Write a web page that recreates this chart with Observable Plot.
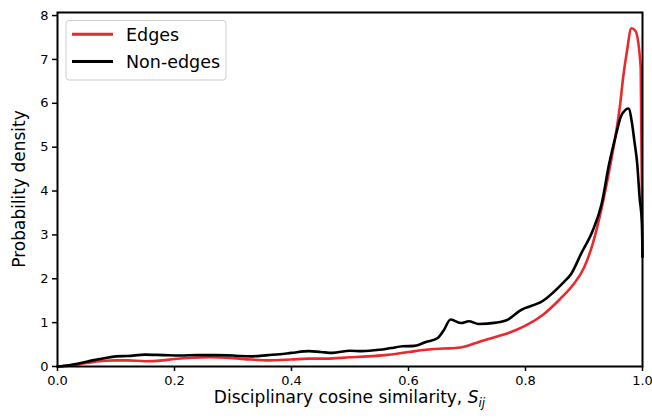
<!DOCTYPE html>
<html>
<head>
<meta charset="utf-8">
<script src="https://cdn.jsdelivr.net/npm/d3@7"></script>
<script src="https://cdn.jsdelivr.net/npm/@observablehq/plot@0.6"></script>
<style>
  html, body { margin: 0; padding: 0; background: white; }
  #chart { width: 652px; height: 418px; }
</style>
</head>
<body>
<div id="chart"></div>
<script>
// Edges (red) density curve
const edgesX = [0.00,0.02,0.04,0.06,0.08,0.10,0.12,0.15,0.18,0.20,0.23,0.26,0.30,0.33,0.36,0.40,0.43,0.46,0.50,0.53,0.56,0.60,0.63,0.66,0.68,0.70,0.72,0.75,0.77,0.80,0.83,0.86,0.88,0.90,0.915,0.93,0.945,0.955,0.962,0.967,0.973,0.981,0.988,0.997,1.0];
const edgesY = [0.00,0.02,0.06,0.10,0.13,0.14,0.14,0.12,0.14,0.17,0.20,0.21,0.19,0.16,0.14,0.16,0.18,0.18,0.21,0.23,0.26,0.33,0.38,0.41,0.42,0.47,0.56,0.68,0.76,0.93,1.18,1.55,1.84,2.25,2.80,3.60,4.60,5.35,6.00,6.60,7.15,7.71,7.65,6.80,2.50];
// Non-edges (black) density curve
const nonEdgesX = [0.00,0.02,0.04,0.06,0.08,0.10,0.12,0.15,0.18,0.21,0.24,0.27,0.30,0.33,0.36,0.38,0.40,0.43,0.45,0.47,0.50,0.52,0.55,0.57,0.59,0.61,0.63,0.65,0.66,0.672,0.69,0.703,0.72,0.75,0.77,0.79,0.83,0.865,0.878,0.895,0.915,0.93,0.943,0.955,0.963,0.97,0.976,0.982,0.986,0.991,0.995,0.999,1.0];
const nonEdgesY = [0.00,0.03,0.08,0.14,0.19,0.23,0.24,0.27,0.26,0.25,0.26,0.26,0.25,0.23,0.26,0.28,0.31,0.35,0.33,0.31,0.36,0.35,0.38,0.42,0.46,0.47,0.56,0.65,0.82,1.07,0.99,1.03,0.97,1.00,1.07,1.27,1.50,1.92,2.11,2.57,3.10,3.70,4.62,5.30,5.70,5.84,5.88,5.55,5.15,4.62,3.86,3.26,2.50];

const seriesNames = ["Edges", "Non-edges"];
const seriesColors = ["#e8292d", "#000000"];
const xTicks = [0, 0.2, 0.4, 0.6, 0.8, 1.0];
const yTicks = [0, 1, 2, 3, 4, 5, 6, 7, 8];
const xLabel = "Disciplinary cosine similarity, ";
const yLabel = "Probability density";

const edges = edgesX.map((x, i) => ({x, y: edgesY[i], s: seriesNames[0]}));
const nonEdges = nonEdgesX.map((x, i) => ({x, y: nonEdgesY[i], s: seriesNames[1]}));

const FONT = "DejaVu Sans, Liberation Sans, Arial, sans-serif";

const chart = Plot.plot({
  width: 652,
  height: 418,
  marginLeft: 57,
  marginRight: 10,
  marginTop: 12,
  marginBottom: 52,
  style: {fontFamily: FONT, fontSize: "13px", color: "black", background: "white", overflow: "visible"},
  x: {domain: [0, 1]},
  y: {domain: [0, 8.07]},
  marks: [
    Plot.line(edges, {x: "x", y: "y", stroke: seriesColors[0], strokeWidth: 2.6, curve: "monotone-x"}),
    Plot.line(nonEdges, {x: "x", y: "y", stroke: seriesColors[1], strokeWidth: 2.6, curve: "monotone-x"}),
    Plot.frame({stroke: "black", strokeWidth: 2}),
    Plot.axisX({ticks: xTicks, tickFormat: d3.format(".1f"), tickSize: 5, tickPadding: 4, strokeWidth: 1.5, label: null, fontSize: 13}),
    Plot.axisY({ticks: yTicks, tickFormat: d3.format("d"), tickSize: 5, tickPadding: 4, strokeWidth: 1.5, label: null, fontSize: 13})
  ]
});

document.getElementById("chart").appendChild(chart);

const svg = d3.select(chart);

// X axis title
const xt = svg.append("text")
  .attr("x", 349.5).attr("y", 403)
  .attr("text-anchor", "middle")
  .attr("font-family", FONT).attr("font-size", 17).attr("fill", "black");
xt.append("tspan").text(xLabel);
xt.append("tspan").attr("font-style", "italic").text("S");
xt.append("tspan").attr("font-style", "italic").attr("font-size", 12).attr("dy", 4).text("ij");

// Y axis title
svg.append("text")
  .attr("transform", "translate(25,189) rotate(-90)")
  .attr("text-anchor", "middle")
  .attr("font-family", FONT).attr("font-size", 17).attr("fill", "black")
  .text(yLabel);

// Legend
const lg = svg.append("g");
lg.append("rect")
  .attr("x", 66).attr("y", 20.5).attr("width", 160).attr("height", 59.5)
  .attr("rx", 3).attr("fill", "white").attr("fill-opacity", 0.8)
  .attr("stroke", "#cccccc").attr("stroke-width", 1);
seriesNames.forEach((name, i) => {
  const yy = 34.3 + i * 27.3;
  lg.append("line")
    .attr("x1", 72).attr("x2", 113).attr("y1", yy).attr("y2", yy)
    .attr("stroke", seriesColors[i]).attr("stroke-width", 3);
  lg.append("text")
    .attr("x", 126).attr("y", yy).attr("dy", "0.36em")
    .attr("text-anchor", "start")
    .attr("font-family", FONT).attr("font-size", 17.5).attr("fill", "black")
    .text(name);
});
</script>
</body>
</html>
